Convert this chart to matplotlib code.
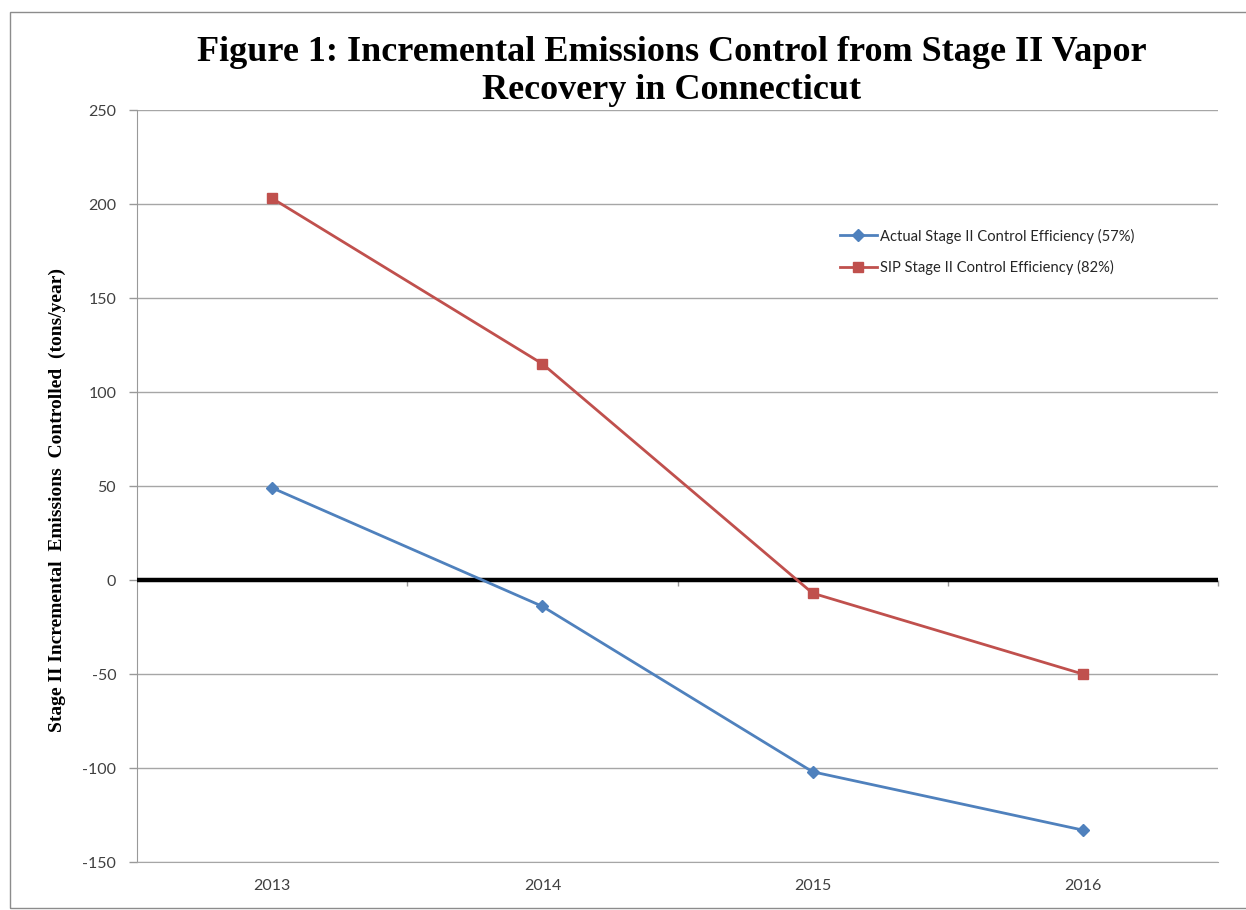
import matplotlib.pyplot as plt
from matplotlib.patches import Rectangle

# data
years = ['2013', '2014', '2015', '2016']
actual = [49, -14, -102, -133]
sip = [203, 115, -7, -50]

plt.rcParams['font.family'] = ['Lato', 'DejaVu Sans']
plt.rcParams['axes.unicode_minus'] = False

fig = plt.figure(figsize=(12.46, 9.10), dpi=100)
ax = fig.add_axes([0.110, 0.0527, 0.8675, 0.8264])

x = range(len(years))
ax.plot(x, actual, color='#4F81BD', lw=2.0, marker='D', ms=6,
        label='Actual Stage II Control Efficiency (57%)', zorder=4)
ax.plot(x, sip, color='#C0504D', lw=2.0, marker='s', ms=7.5,
        label='SIP Stage II Control Efficiency (82%)', zorder=4)

# thick zero line with small category ticks
ax.axhline(0, color='black', lw=3.2, zorder=3)
ax.plot([0.5, 1.5, 2.5, 3.5], [0] * 4, ls='none', marker=3, ms=4,
        color='#999999', mew=1, zorder=2, clip_on=False)

ax.set_xlim(-0.5, 3.5)
ax.set_ylim(-150, 250)
ax.set_yticks(range(-150, 251, 50))
ax.set_xticks(list(x))
ax.set_xticklabels(years)
ax.tick_params(axis='x', length=0, pad=12, labelsize=11.5, labelcolor='#404040')
ax.tick_params(axis='y', length=6, width=1, color='#999999', pad=9,
               labelsize=11.5, labelcolor='#404040')

ax.grid(axis='y', color='#a6a6a6', lw=1)
ax.set_axisbelow(True)
for s in ['top', 'right']:
    ax.spines[s].set_visible(False)
ax.spines['left'].set_color('#999999')
ax.spines['bottom'].set_color('#a6a6a6')

ax.legend(loc='upper left', bbox_to_anchor=(0.638, 0.86), frameon=False,
          fontsize=10.6, handlelength=2.5, handletextpad=0.2, labelspacing=1.1,
          labelcolor='#262626')

fig.text(0.539, 0.96, 'Figure 1: Incremental Emissions Control from Stage II Vapor\nRecovery in Connecticut',
         ha='center', va='top', fontsize=26, fontweight='bold',
         family='Liberation Serif', linespacing=1.2)
fig.text(0.046, 0.451, 'Stage II Incremental  Emissions  Controlled  (tons/year)',
         rotation=90, ha='center', va='center', fontsize=14, fontweight='bold',
         family='Liberation Serif')

# outer frame
fig.add_artist(Rectangle((10 / 1246, 2 / 910), 1.2, 896 / 910, transform=fig.transFigure,
                         fill=False, edgecolor='#8c8c8c', lw=1))

fig.savefig('out.png', dpi=100)
